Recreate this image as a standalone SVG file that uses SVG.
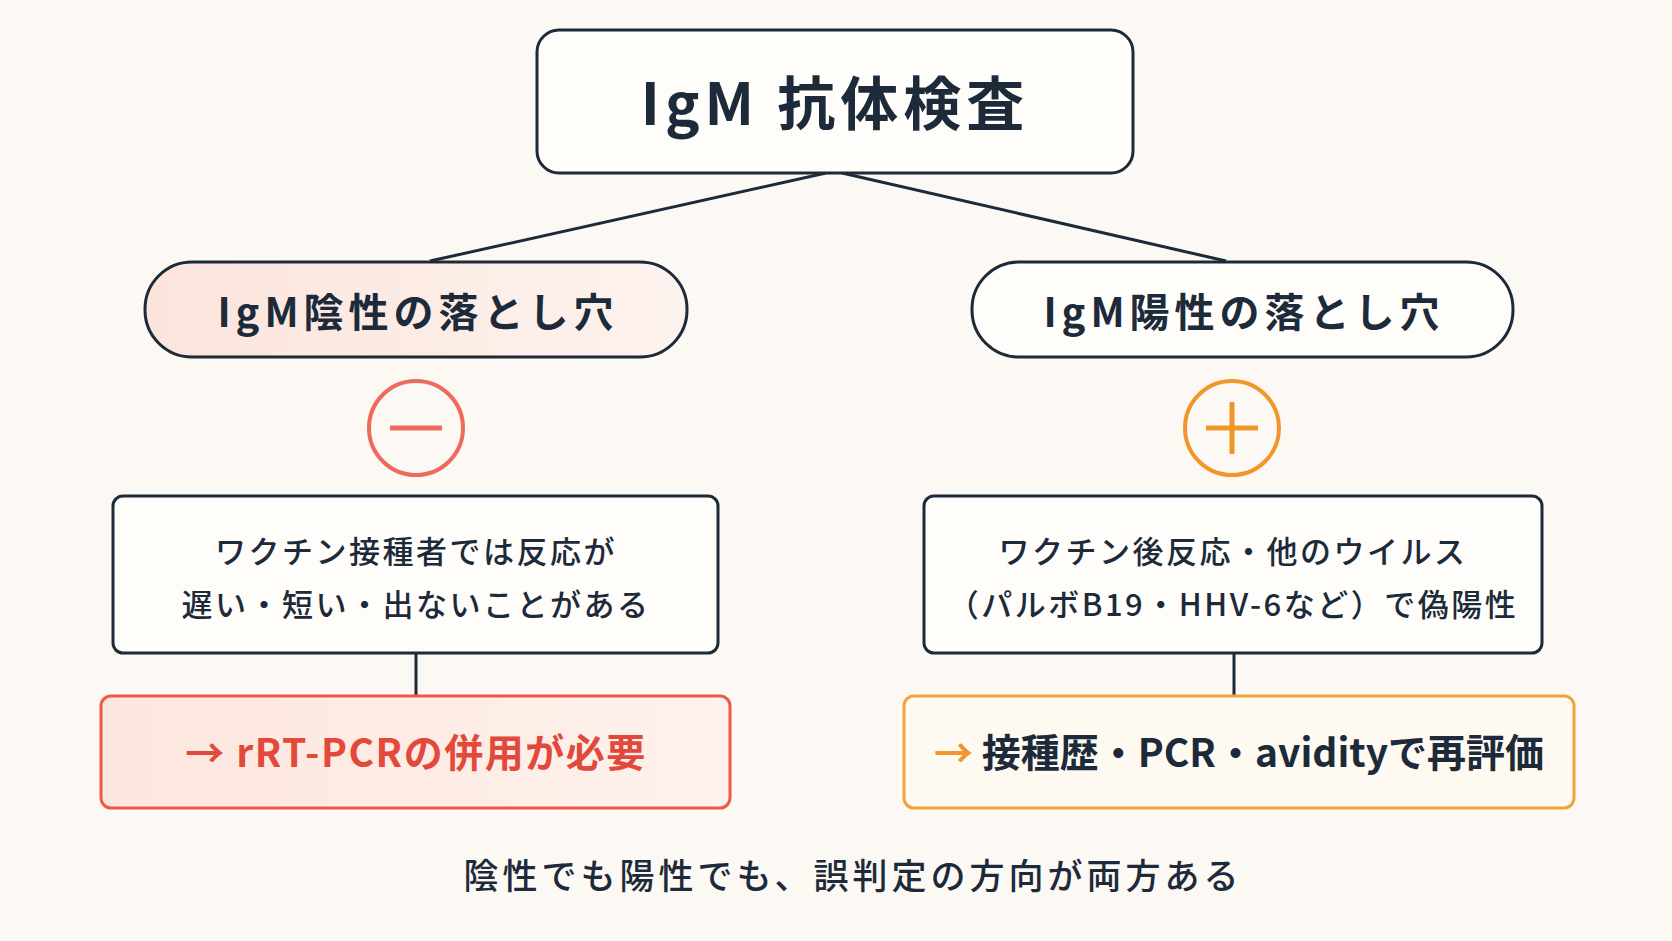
<svg xmlns="http://www.w3.org/2000/svg" width="1672" height="941" viewBox="0 0 1672 941">
<style>
text{font-family:"Noto Sans CJK JP","Noto Sans",sans-serif;fill:#1c2a3a;text-anchor:middle}
.box{fill:#fffdf9;stroke:#1c2a3a;stroke-width:3}
.t{font-weight:700;letter-spacing:5px}
.b{font-size:31px;font-weight:500;letter-spacing:2.5px}
</style>
<defs>
<linearGradient id="pk" x1="0" x2="1"><stop offset="0" stop-color="#fbe4dc"/><stop offset="1" stop-color="#fdf3ee"/></linearGradient>
<linearGradient id="pk2" x1="0" x2="1"><stop offset="0" stop-color="#fde6de"/><stop offset="1" stop-color="#fdf2ec"/></linearGradient>
</defs>
<rect width="1672" height="941" fill="#fcf8f3"/>
<g id="connectors" stroke="#1c2a3a" stroke-width="3" fill="none">
<line x1="826" y1="173" x2="430" y2="261"/>
<line x1="842" y1="173" x2="1226" y2="261"/>
<line x1="416" y1="653" x2="416" y2="696"/>
<line x1="1234" y1="653" x2="1234" y2="696"/>
</g>
<g id="title"><rect class="box" x="537" y="30" width="596" height="143" rx="22"/>
<text x="835" y="125" font-size="58" class="t" letter-spacing="9">IgM 抗体検査</text></g>
<g id="neg"><rect x="145" y="262" width="542" height="95" rx="47" fill="url(#pk)" stroke="#1c2a3a" stroke-width="3"/>
<text x="418" y="327" font-size="40" class="t">IgM陰性の落とし穴</text></g>
<g id="pos"><rect class="box" x="972" y="262" width="541" height="95" rx="47"/>
<text x="1244" y="327" font-size="40" class="t">IgM陽性の落とし穴</text></g>
<g id="minus"><circle cx="416" cy="428" r="47" fill="none" stroke="#ee6a5a" stroke-width="4"/>
<line x1="390" y1="428" x2="442" y2="428" stroke="#ee6a5a" stroke-width="5"/></g>
<g id="plus"><circle cx="1232" cy="428" r="47" fill="none" stroke="#f0962a" stroke-width="4"/>
<line x1="1206" y1="428" x2="1258" y2="428" stroke="#f0962a" stroke-width="5"/>
<line x1="1232" y1="402" x2="1232" y2="454" stroke="#f0962a" stroke-width="5"/></g>
<g id="negdesc"><rect class="box" x="113" y="496" width="605" height="157" rx="10"/>
<text x="416" y="563" class="b">ワクチン接種者では反応が</text>
<text x="416" y="616" class="b">遅い・短い・出ないことがある</text></g>
<g id="posdesc"><rect class="box" x="924" y="496" width="618" height="157" rx="10"/>
<text x="1233" y="563" class="b">ワクチン後反応・他のウイルス</text>
<text x="1233" y="616" class="b">（パルボB19・HHV-6など）で偽陽性</text></g>
<g id="negact"><rect x="101" y="696" width="629" height="112" rx="10" fill="url(#pk2)" stroke="#ee5a4a" stroke-width="3"/>
<text x="416" y="767" font-size="39" font-weight="700" letter-spacing="1.5" style="fill:#e2493a">→  rRT-PCRの併用が必要</text></g>
<g id="posact"><rect x="904" y="696" width="670" height="112" rx="10" fill="#fefaf2" stroke="#f3a23b" stroke-width="3"/>
<text x="1239" y="767" font-size="39" font-weight="700"><tspan style="fill:#f0962a">→ </tspan>接種歴・PCR・avidityで再評価</text></g>
<g id="footer"><text x="853" y="889" font-size="35" font-weight="500" letter-spacing="4">陰性でも陽性でも、誤判定の方向が両方ある</text></g>
</svg>
